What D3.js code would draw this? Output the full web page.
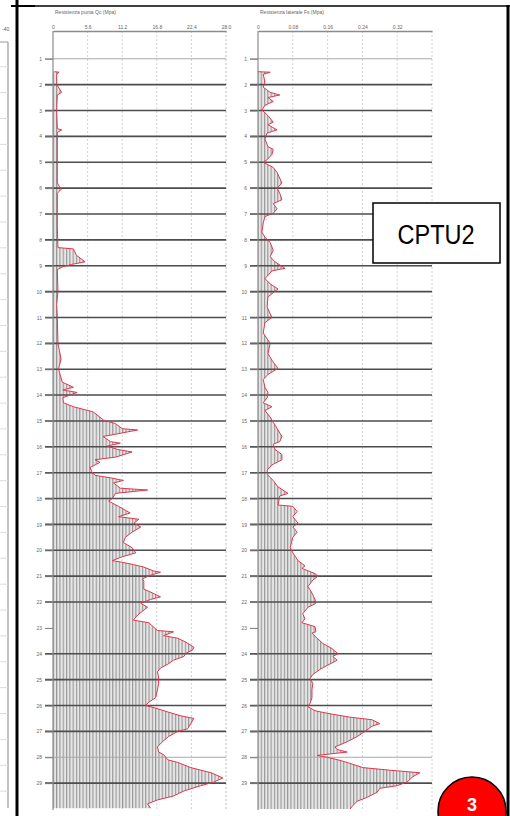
<!DOCTYPE html>
<html>
<head>
<meta charset="utf-8">
<script src="https://cdn.jsdelivr.net/npm/d3@7/dist/d3.min.js"></script>
<style>
  html, body { margin: 0; padding: 0; background: #fff; }
  svg { display: block; }
  text { font-family: "Liberation Sans", Arial, sans-serif; }
</style>
</head>
<body>
<svg id="chart" width="510" height="816"></svg>
<script>
// Depth reference lines (m)
const depthTicks = d3.range(1, 30);

// Cone resistance Qc (MPa) against depth (m)
const qcDepth = [1.50,1.52,1.6,2.0,2.3,2.4,3.0,3.7,3.75,3.85,5.0,5.8,6.05,6.2,7.5,8.3,8.35,8.6,8.85,8.95,9.05,9.15,10.0,10.5,11.0,12.0,12.6,13.0,13.5,13.7,13.8,13.9,14.1,14.3,14.45,14.65,14.97,15.1,15.3,15.35,15.5,15.6,15.8,15.86,15.97,16.1,16.2,16.4,16.5,16.6,16.8,16.97,17.1,17.2,17.3,17.4,17.6,17.67,17.8,18.0,18.1,18.3,18.56,18.7,18.8,18.95,19.1,19.3,19.5,19.7,19.9,20.1,20.25,20.4,20.45,20.55,20.65,20.8,20.85,20.96,21.1,21.2,21.5,21.65,21.8,21.9,22.05,22.2,22.5,22.7,22.8,23.1,23.15,23.3,23.4,23.55,23.75,23.85,23.98,24.1,24.25,24.4,24.55,24.7,24.9,25.15,25.4,25.7,25.87,26.0,26.1,26.25,26.4,26.5,26.7,26.9,27.0,27.2,27.4,27.6,27.8,27.9,28.1,28.2,28.4,28.6,28.8,28.96,29.1,29.3,29.5,29.65,29.8,29.97];
const qcValues = [0.2,1.0,0.6,0.6,1.4,0.7,0.6,0.7,1.4,0.7,0.7,0.7,1.3,0.7,0.7,0.8,3.3,3.8,5.2,3.0,1.5,0.7,0.8,0.6,0.7,0.8,1.3,0.9,1.5,3.3,1.6,3.9,1.6,1.7,3.3,6.5,8.2,10.1,11.2,13.7,10.4,8.1,9.3,10.9,8.8,10.4,12.8,10.1,6.8,7.6,6.0,6.3,6.8,9.3,11.4,9.8,10.9,15.3,10.1,9.6,9.0,10.6,12.5,10.6,13.9,13.1,14.2,12.8,11.7,11.4,12.8,13.4,11.2,9.6,10.9,13.0,14.7,16.3,17.4,15.8,14.5,14.7,14.7,16.1,17.4,15.8,14.2,15.3,13.7,13.0,15.5,16.9,19.5,17.9,20.2,21.5,22.8,22.6,21.5,21.2,19.5,18.6,17.4,16.9,17.1,17.1,16.9,16.6,15.5,15.0,16.6,18.6,20.7,22.8,22.3,21.8,20.2,18.7,17.7,16.9,17.1,17.9,18.6,20.2,22.3,25.6,27.5,26.0,23.9,21.2,19.5,16.9,15.3,15.8];
const qcTicks = [0, 5.6, 11.2, 16.8, 22.4, 28.0];
const qcTickLabels = ["0", "5.6", "11.2", "16.8", "22.4", "28.0"];

// Sleeve friction Fs (MPa) against depth (m)
const fsDepth = [1.5,1.52,1.6,1.9,2.1,2.3,2.4,2.5,2.65,2.8,2.98,3.2,3.45,3.55,3.75,3.87,4.1,4.4,4.5,4.7,4.9,5.0,5.2,5.4,5.8,6.0,6.2,6.45,6.6,6.8,6.97,7.1,7.35,7.7,7.9,8.1,8.4,8.65,8.85,9.1,9.2,9.5,9.7,9.9,10.2,10.6,11.0,11.2,11.6,12.0,12.4,12.65,12.97,13.2,13.4,13.7,13.9,14.1,14.3,14.45,14.6,14.85,15.05,15.35,15.6,15.8,15.9,16.1,16.3,16.5,16.7,16.9,17.1,17.3,17.55,17.8,17.9,18.25,18.3,18.5,18.7,18.95,19.1,19.3,19.5,19.9,20.1,20.4,20.6,20.7,20.9,21.0,21.15,21.4,21.65,21.9,22.05,22.2,22.45,22.65,22.8,22.95,23.15,23.2,23.4,23.6,23.8,24.0,24.1,24.25,24.45,24.6,24.8,24.95,25.15,25.4,25.7,25.9,26.05,26.2,26.3,26.45,26.55,26.7,26.8,27.0,27.2,27.4,27.6,27.7,27.8,27.9,27.93,28.0,28.1,28.2,28.4,28.5,28.6,28.75,28.95,29.1,29.2,29.35,29.55,29.7,29.9,30.0];
const fsValues = [0.0,0.028,0.012,0.016,0.012,0.028,0.050,0.023,0.035,0.016,0.009,0.023,0.035,0.023,0.044,0.021,0.016,0.023,0.035,0.032,0.021,0.012,0.035,0.044,0.055,0.044,0.050,0.055,0.035,0.044,0.035,0.016,0.012,0.009,0.016,0.028,0.035,0.028,0.039,0.062,0.032,0.016,0.028,0.046,0.023,0.021,0.032,0.016,0.012,0.028,0.023,0.032,0.046,0.023,0.012,0.016,0.023,0.021,0.012,0.032,0.016,0.028,0.035,0.046,0.055,0.050,0.035,0.039,0.055,0.055,0.032,0.021,0.023,0.035,0.046,0.069,0.050,0.046,0.080,0.090,0.080,0.092,0.080,0.090,0.080,0.074,0.080,0.092,0.108,0.101,0.131,0.138,0.126,0.115,0.124,0.131,0.133,0.115,0.103,0.108,0.101,0.131,0.133,0.124,0.136,0.149,0.170,0.184,0.172,0.182,0.159,0.143,0.126,0.120,0.126,0.124,0.124,0.120,0.115,0.131,0.159,0.211,0.262,0.280,0.262,0.246,0.228,0.205,0.177,0.182,0.205,0.150,0.136,0.159,0.184,0.205,0.241,0.303,0.372,0.356,0.343,0.320,0.280,0.274,0.251,0.228,0.216,0.212];
const fsTicks = [0, 0.08, 0.16, 0.24, 0.32];
const fsTickLabels = ["0", "0.08", "0.16", "0.24", "0.32"];

const svg = d3.select("#chart");

// hatched fill used under both profiles
const defs = svg.append("defs");
const pat = defs.append("pattern")
  .attr("id", "hatch").attr("patternUnits", "userSpaceOnUse")
  .attr("width", 3.3).attr("height", 10);
pat.append("rect").attr("width", 3.3).attr("height", 10).attr("fill", "#e6e6e6");
pat.append("line").attr("x1", 0.6).attr("x2", 0.6).attr("y1", 0).attr("y2", 10)
  .attr("stroke", "#8c8c8c").attr("stroke-width", 1);

const y = d3.scaleLinear().domain([-0.15, 30]).range([29, 809]);
const yTop = 31, yBottom = 810;

function panel(cfg) {
  const g = svg.append("g");
  const x = d3.scaleLinear().domain(cfg.domain).range([cfg.x0, cfg.x1]);

  // title
  g.append("text").attr("x", cfg.x0 + 2).attr("y", 14)
    .attr("font-size", 5).attr("fill", "#666").text(cfg.title);

  // dotted vertical grid
  g.selectAll("line.vgrid").data(cfg.ticks.slice(1).concat([cfg.domain[1]]))
    .join("line").attr("class", "vgrid")
    .attr("x1", d => x(d)).attr("x2", d => x(d))
    .attr("y1", yTop).attr("y2", yBottom)
    .attr("stroke", "#d2d2d2").attr("stroke-width", 1)
    .attr("stroke-dasharray", "2,2");

  // top value axis
  const ax = d3.axisTop(x).tickValues(cfg.ticks).tickSize(0).tickPadding(2)
    .tickFormat((d, i) => cfg.tickLabels[i]);
  const axG = g.append("g").attr("transform", `translate(0,${yTop})`).call(ax);
  axG.select(".domain").attr("stroke", "#8a8a8a").attr("stroke-width", 1.5);
  axG.selectAll("text").attr("font-size", 5).attr("fill", "#666")
    .attr("font-family", "Liberation Sans, Arial, sans-serif");

  // filled profile
  const data = cfg.depth.map((d, i) => ({ d: d, v: cfg.values[i] }));
  const area = d3.area().y(p => y(p.d)).x0(x(0)).x1(p => x(p.v));
  g.append("path").datum(data).attr("d", area).attr("fill", "url(#hatch)");

  // depth grid lines
  const lineDepths = depthTicks.filter(d => d !== 23);
  g.selectAll("line.hgrid").data(lineDepths).join("line").attr("class", "hgrid")
    .attr("x1", cfg.x0 - 8).attr("x2", cfg.x1)
    .attr("y1", d => y(d)).attr("y2", d => y(d))
    .attr("stroke", d => (d === 1 || d === 28) ? "#a8a8a8" : "#4d4d4d")
    .attr("stroke-width", d => (d === 1 || d === 28) ? 1 : 1.6);

  // depth axis
  const ay = d3.axisLeft(y).tickValues(depthTicks).tickSize(8).tickPadding(3)
    .tickFormat(d3.format("d"));
  const ayG = g.append("g").attr("transform", `translate(${cfg.x0},0)`).call(ay);
  ayG.select(".domain").remove();
  ayG.selectAll(".tick line").attr("stroke", "#777");
  ayG.selectAll("text").attr("font-size", 5).attr("fill", "#666")
    .attr("font-family", "Liberation Sans, Arial, sans-serif");
  g.append("line").attr("x1", cfg.x0).attr("x2", cfg.x0)
    .attr("y1", yTop).attr("y2", yBottom)
    .attr("stroke", "#8a8a8a").attr("stroke-width", 1.2);

  // profile line
  const line = d3.line().x(p => x(p.v)).y(p => y(p.d));
  g.append("path").datum(data).attr("d", line)
    .attr("fill", "none").attr("stroke", "#e0374f").attr("stroke-width", 1);
}

panel({ title: "Resistenza punta Qc (Mpa)", domain: [0, 28], x0: 53, x1: 226,
        ticks: qcTicks, tickLabels: qcTickLabels, depth: qcDepth, values: qcValues });
panel({ title: "Resistenza laterale Fs (Mpa)", domain: [0, 0.4], x0: 258, x1: 432,
        ticks: fsTicks, tickLabels: fsTickLabels, depth: fsDepth, values: fsValues });

// edge of the neighbouring log on the left
const edge = svg.append("g");
edge.append("text").attr("x", 2).attr("y", 31).attr("font-size", 5).attr("fill", "#666").text("-40");
edge.append("line").attr("x1", 0).attr("x2", 8).attr("y1", 42).attr("y2", 42)
  .attr("stroke", "#9a9a9a").attr("stroke-width", 1);
edge.append("line").attr("x1", 8).attr("x2", 8).attr("y1", 42).attr("y2", 808)
  .attr("stroke", "#9a9a9a").attr("stroke-width", 1.2);
edge.selectAll("line.eg").data(depthTicks).join("line").attr("class", "eg")
  .attr("x1", 0).attr("x2", 8).attr("y1", d => y(d) + 8).attr("y2", d => y(d) + 8)
  .attr("stroke", "#dcdcdc").attr("stroke-width", 1);

// page frame
svg.append("line").attr("x1", 17).attr("x2", 17).attr("y1", 0).attr("y2", 816)
  .attr("stroke", "#000").attr("stroke-width", 3);
svg.append("line").attr("x1", 17).attr("x2", 510).attr("y1", 6).attr("y2", 6)
  .attr("stroke", "#000").attr("stroke-width", 1.5);
svg.append("line").attr("x1", 11).attr("x2", 35).attr("y1", 6).attr("y2", 6)
  .attr("stroke", "#000").attr("stroke-width", 2);
svg.append("line").attr("x1", 508).attr("x2", 508).attr("y1", 5).attr("y2", 816)
  .attr("stroke", "#000").attr("stroke-width", 3);

// test label
svg.append("rect").attr("x", 373).attr("y", 203).attr("width", 127).attr("height", 60)
  .attr("fill", "#fff").attr("stroke", "#000").attr("stroke-width", 1.5);
svg.append("text").attr("x", 436).attr("y", 244).attr("text-anchor", "middle")
  .attr("font-size", 27).attr("textLength", 77).attr("lengthAdjust", "spacingAndGlyphs")
  .attr("fill", "#000").text("CPTU2");

// page badge
svg.append("circle").attr("cx", 472).attr("cy", 811).attr("r", 34)
  .attr("fill", "#ff0000").attr("stroke", "#000").attr("stroke-width", 1.5);
svg.append("text").attr("x", 472).attr("y", 811).attr("text-anchor", "middle")
  .attr("font-size", 18).attr("font-weight", "bold").attr("fill", "#fff").text("3");
</script>
</body>
</html>
